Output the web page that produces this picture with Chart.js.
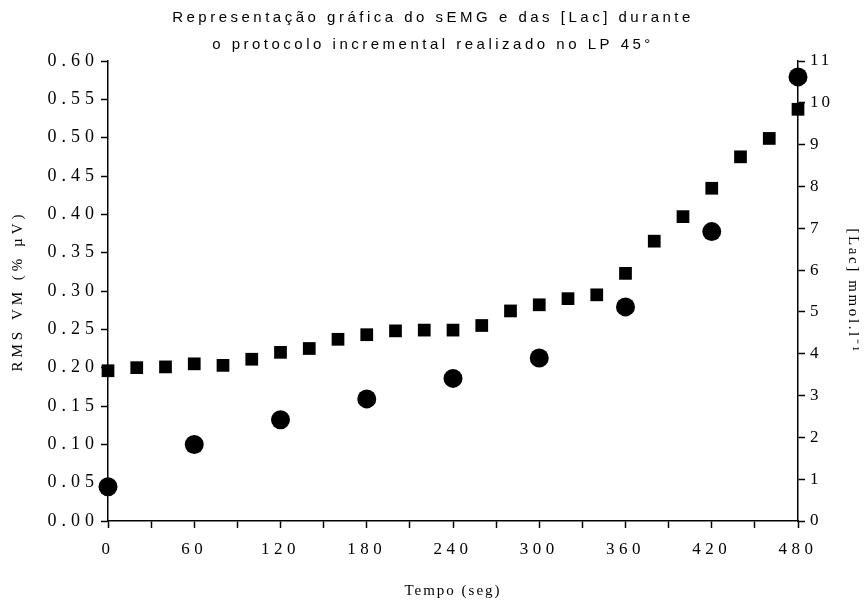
<!DOCTYPE html>
<html lang="pt">
<head>
  <meta charset="UTF-8" />
  <title>sEMG e [Lac] no protocolo incremental</title>
  <script src="https://cdn.jsdelivr.net/npm/chart.js@4"></script>
  <style>
    body {
      margin: 0;
      background: #fff;
    }
    #chart {
      display: block;
    }
  </style>
</head>
<body>
  <canvas id="chart" width="866" height="600"></canvas>

  <script>
    // RMS (eixo esquerdo), a cada 20 s
    const rmsTimes = [0, 20, 40, 60, 80, 100, 120, 140, 160, 180, 200, 220, 240,
                      260, 280, 300, 320, 340, 360, 380, 400, 420, 440, 460, 480];
    const rmsValues = [0.196, 0.200, 0.201, 0.205, 0.203, 0.211, 0.220, 0.225, 0.237,
                       0.243, 0.248, 0.249, 0.249, 0.255, 0.274, 0.282, 0.290, 0.295,
                       0.323, 0.365, 0.397, 0.434, 0.475, 0.499, 0.537];

    // [Lac] (eixo direito), a cada 60 s
    const lacTimes = [0, 60, 120, 180, 240, 300, 360, 420, 480];
    const lacValues = [0.82, 1.83, 2.42, 2.92, 3.41, 3.90, 5.12, 6.92, 10.62];

    const titleLines = ["Representação gráfica do sEMG e das [Lac] durante",
                        "o protocolo incremental realizado no LP 45°"];

    const serif = "'Liberation Serif', 'Times New Roman', serif";
    const sans = "'Liberation Sans', Arial, sans-serif";

    // espaçamento entre letras (o original tem texto bem espaçado)
    function withSpacing(obj, name, sp) {
      if (!obj || obj["_sp_" + name]) return;
      const orig = obj[name];
      obj[name] = function (...args) {
        const ctx = this.ctx;
        const prev = ctx.letterSpacing;
        ctx.letterSpacing = sp;
        orig.apply(this, args);
        ctx.letterSpacing = prev;
      };
      obj["_sp_" + name] = true;
    }

    const spacing = {
      id: "spacing",
      afterLayout(c) {
        withSpacing(c.titleBlock, "draw", "3.5px");
        withSpacing(c.scales.x, "drawLabels", "4.5px");
        withSpacing(c.scales.y, "drawLabels", "5px");
        withSpacing(c.scales.y2, "drawLabels", "3px");
        withSpacing(c.scales.x, "drawTitle", "2px");
        withSpacing(c.scales.y, "drawTitle", "4px");
        withSpacing(c.scales.y2, "drawTitle", "2.6px");
      }
    };

    const axisGrid = {
      display: true,
      drawOnChartArea: false,
      drawTicks: true,
      tickLength: 7,
      tickColor: "#000",
      tickWidth: 1.5
    };
    const axisBorder = { display: true, color: "#000", width: 1.5 };

    const chart = new Chart(document.getElementById("chart"), {
      type: "scatter",
      data: {
        datasets: [
          {
            label: "RMS",
            data: rmsTimes.map((t, i) => ({ x: t, y: rmsValues[i] })),
            yAxisID: "y",
            pointStyle: "rect",
            pointRadius: 9,
            backgroundColor: "#000",
            borderWidth: 0,
            clip: false
          },
          {
            label: "[Lac]",
            data: lacTimes.map((t, i) => ({ x: t, y: lacValues[i] })),
            yAxisID: "y2",
            pointStyle: "circle",
            pointRadius: 9.5,
            backgroundColor: "#000",
            borderWidth: 0,
            clip: false
          }
        ]
      },
      options: {
        responsive: false,
        animation: false,
        layout: { padding: 0 },
        plugins: {
          legend: { display: false },
          tooltip: { enabled: false },
          title: {
            display: true,
            text: titleLines,
            color: "#000",
            font: { family: sans, size: 15, weight: "normal", lineHeight: 1.8 },
            padding: { top: 4, bottom: 3 }
          }
        },
        scales: {
          x: {
            type: "linear",
            min: 0,
            max: 480,
            grid: axisGrid,
            border: axisBorder,
            ticks: {
              stepSize: 30,
              color: "#000",
              padding: 11,
              maxRotation: 0,
              font: { family: serif, size: 17 },
              callback: v => (v % 60 === 0 ? v : "")
            },
            title: {
              display: true,
              text: "Tempo (seg)",
              color: "#000",
              font: { family: serif, size: 15 },
              padding: { top: 0, bottom: 0 }
            },
            afterFit: s => { s.height = 79; }
          },
          y: {
            position: "left",
            min: 0,
            max: 0.6,
            grid: axisGrid,
            border: axisBorder,
            ticks: {
              stepSize: 0.05,
              color: "#000",
              padding: 2,
              font: { family: serif, size: 18 },
              callback: v => v.toFixed(2)
            },
            title: {
              display: true,
              text: "RMS VM (% µV)",
              color: "#000",
              font: { family: serif, size: 15 },
              padding: { top: 9, bottom: 0 }
            },
            afterFit: s => { s.width = 108; }
          },
          y2: {
            position: "right",
            min: 0,
            max: 11,
            grid: axisGrid,
            border: axisBorder,
            ticks: {
              stepSize: 1,
              color: "#000",
              padding: 5,
              font: { family: serif, size: 17 }
            },
            title: {
              display: true,
              text: "[Lac] mmol.l⁻¹",
              color: "#000",
              font: { family: serif, size: 15 },
              padding: { top: 4, bottom: 0 }
            },
            afterFit: s => { s.width = 68; }
          }
        }
      },
      plugins: [spacing]
    });
    // redesenha com o espaçamento já aplicado
    chart.draw();
  </script>
</body>
</html>
